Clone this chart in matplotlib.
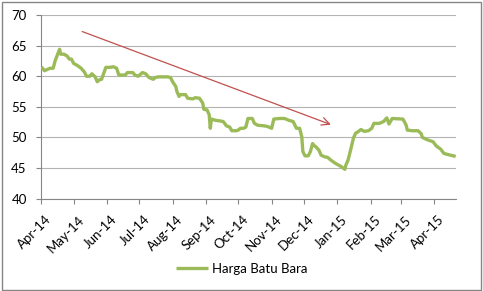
import matplotlib
matplotlib.use("Agg")
import matplotlib.pyplot as plt
import matplotlib.dates as mdates
import matplotlib.transforms as mtransforms
from matplotlib.patches import Rectangle
import pandas as pd

# ---- data ----
dates = [
    "2014-04-01", "2014-04-04", "2014-04-09", "2014-04-12", "2014-04-14", "2014-04-16",
    "2014-04-18", "2014-04-19", "2014-04-22", "2014-04-25", "2014-04-27", "2014-04-29",
    "2014-05-01", "2014-05-05", "2014-05-08", "2014-05-11", "2014-05-13", "2014-05-16",
    "2014-05-18", "2014-05-21", "2014-05-23", "2014-05-25", "2014-05-27", "2014-05-29",
    "2014-05-31", "2014-06-04", "2014-06-07", "2014-06-10", "2014-06-12", "2014-06-15",
    "2014-06-18", "2014-06-20", "2014-06-25", "2014-06-27", "2014-06-30", "2014-07-04",
    "2014-07-07", "2014-07-10", "2014-07-14", "2014-07-16", "2014-07-19", "2014-07-27",
    "2014-07-30", "2014-08-01", "2014-08-04", "2014-08-05", "2014-08-07", "2014-08-08",
    "2014-08-13", "2014-08-15", "2014-08-20", "2014-08-22", "2014-08-26", "2014-08-29",
    "2014-08-30", "2014-09-02", "2014-09-04", "2014-09-05", "2014-09-06", "2014-09-10",
    "2014-09-14", "2014-09-17", "2014-09-20", "2014-09-23", "2014-09-25", "2014-09-29",
    "2014-10-01", "2014-10-03", "2014-10-06", "2014-10-08", "2014-10-10", "2014-10-14",
    "2014-10-16", "2014-10-19", "2014-10-25", "2014-10-28", "2014-11-01", "2014-11-03",
    "2014-11-08", "2014-11-13", "2014-11-17", "2014-11-21", "2014-11-24", "2014-11-27",
    "2014-11-29", "2014-11-30", "2014-12-02", "2014-12-05", "2014-12-07", "2014-12-09",
    "2014-12-11", "2014-12-12", "2014-12-15", "2014-12-17", "2014-12-20", "2014-12-23",
    "2014-12-26", "2014-12-30", "2015-01-02", "2015-01-05", "2015-01-08", "2015-01-09",
    "2015-01-11", "2015-01-13", "2015-01-16", "2015-01-18", "2015-01-20", "2015-01-23",
    "2015-01-26", "2015-01-30", "2015-02-02", "2015-02-04", "2015-02-09", "2015-02-13",
    "2015-02-16", "2015-02-18", "2015-02-21", "2015-03-03", "2015-03-06", "2015-03-07",
    "2015-03-12", "2015-03-17", "2015-03-20", "2015-03-21", "2015-03-26", "2015-03-31",
    "2015-04-03", "2015-04-07", "2015-04-10", "2015-04-14", "2015-04-21",
]
harga = [
    61.55, 60.9, 61.3, 61.3, 62.6, 63.5,
    64.4, 63.6, 63.6, 63.3, 62.8, 62.8,
    62.1, 61.7, 61.3, 60.7, 60.0, 60.0,
    60.4, 59.9, 59.1, 59.4, 59.5, 60.5,
    61.45, 61.45, 61.55, 61.3, 60.2, 60.2,
    60.2, 60.6, 60.6, 60.2, 60.0, 60.6,
    60.4, 59.8, 59.5, 59.8, 59.9, 59.9,
    59.8, 59.1, 58.3, 57.5, 56.7, 57.0,
    57.0, 56.4, 56.3, 56.5, 56.4, 55.6,
    54.6, 54.5, 53.7, 51.5, 53.0, 52.8,
    52.7, 52.6, 51.9, 51.7, 51.1, 51.1,
    51.2, 51.5, 51.5, 51.7, 53.1, 53.1,
    52.3, 52.0, 51.9, 51.8, 51.5, 53.0,
    53.1, 53.1, 52.8, 52.6, 51.5, 51.5,
    50.1, 47.7, 47.0, 47.0, 47.7, 49.0,
    48.6, 48.5, 47.9, 47.1, 46.85, 46.75,
    46.3, 45.8, 45.5, 45.2, 44.8, 45.5,
    46.3, 47.7, 49.9, 50.7, 50.9, 51.3,
    51.0, 51.1, 51.5, 52.3, 52.3, 52.6,
    53.2, 52.2, 53.1, 53.0, 52.0, 51.2,
    51.1, 51.1, 50.6, 50.0, 49.6, 49.3,
    48.6, 48.1, 47.4, 47.2, 46.9,
]
series_name = "Harga Batu Bara"
y_ticks = [40, 45, 50, 55, 60, 65, 70]
arrow_dates = ["2014-05-09", "2014-12-26"]
arrow_values = [67.3, 52.1]

# ---- figure ----
W, H, DPI = 483, 291, 100
fig = plt.figure(figsize=(W / DPI, H / DPI), dpi=DPI)
plt.rcParams["font.family"] = ["Lato", "DejaVu Sans"]

ax = fig.add_axes([41.3 / W, 1 - 198.7 / H, (455.7 - 41.3) / W, (198.7 - 15) / H])

x = pd.to_datetime(dates)
line, = ax.plot(x, harga, color="#9BBB59", lw=2.4, solid_joinstyle="round",
                solid_capstyle="butt", label=series_name, zorder=3)

ax.set_xlim(pd.Timestamp("2014-04-01"), x[-1])
ax.set_ylim(y_ticks[0], y_ticks[-1])
ax.set_yticks(y_ticks)
ax.xaxis.set_major_locator(mdates.MonthLocator())
ax.xaxis.set_major_formatter(mdates.DateFormatter("%b-%y"))

ax.grid(axis="y", color="#b3b3b3", lw=0.8)
ax.set_axisbelow(True)
for s in ["top", "right"]:
    ax.spines[s].set_visible(False)
for s in ["left", "bottom"]:
    ax.spines[s].set_color("#868686")
    ax.spines[s].set_linewidth(0.8)
ax.tick_params(axis="both", colors="#868686", labelcolor="black", labelsize=9.5,
               length=3.5, width=0.8, direction="out")
ax.tick_params(axis="y", pad=7)
ax.tick_params(axis="x", pad=2)
offset = mtransforms.ScaledTranslation(4 / DPI, -7 / DPI, fig.dpi_scale_trans)
for lbl in ax.get_xticklabels():
    lbl.set_rotation(45)
    lbl.set_ha("right")
    lbl.set_va("top")
    lbl.set_rotation_mode("anchor")
    lbl.set_transform(lbl.get_transform() + offset)

ax.annotate("", xy=(pd.Timestamp(arrow_dates[1]), arrow_values[1]),
            xytext=(pd.Timestamp(arrow_dates[0]), arrow_values[0]),
            arrowprops=dict(arrowstyle="->", color="#C0504D", lw=0.9,
                            mutation_scale=14, shrinkA=0, shrinkB=0), zorder=4)

fig.legend(handles=[line], loc="center", bbox_to_anchor=(0.5, 1 - 269 / H),
           frameon=False, fontsize=9.5, handlelength=2.4, handletextpad=0.3)

fig.patches.append(Rectangle((1.5 / W, 1.5 / H), (481 - 1.5) / W, (289.5 - 1.5) / H,
                             transform=fig.transFigure, fill=False,
                             edgecolor="#868686", lw=1.0))

fig.savefig("out.png", dpi=DPI)
